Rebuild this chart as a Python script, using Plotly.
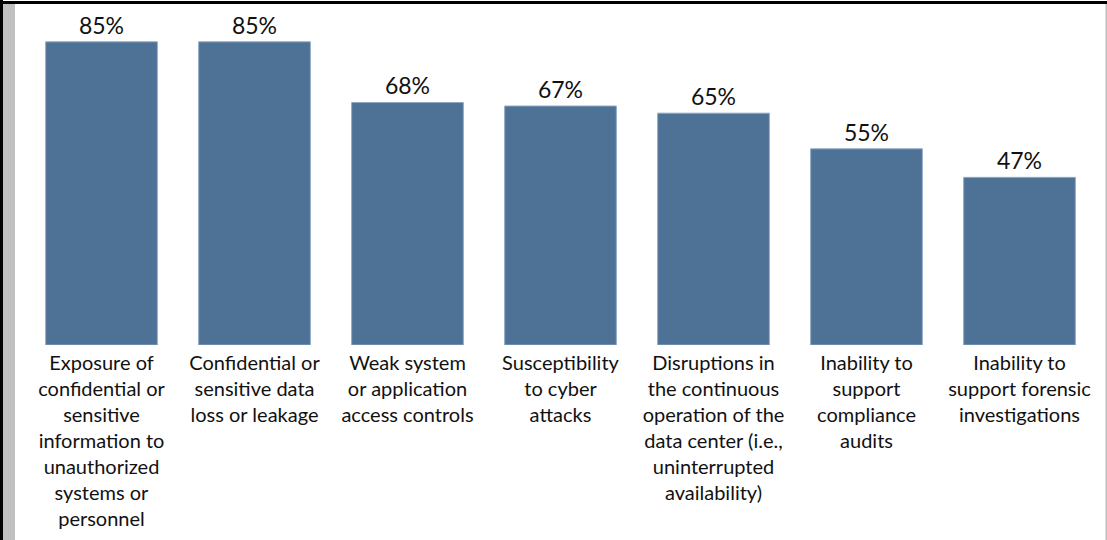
import plotly.graph_objects as go

categories = [
    "Exposure of<br>confidential or<br>sensitive<br>information to<br>unauthorized<br>systems or<br>personnel",
    "Confidential or<br>sensitive data<br>loss or leakage",
    "Weak system<br>or application<br>access controls",
    "Susceptibility<br>to cyber<br>attacks",
    "Disruptions in<br>the continuous<br>operation of the<br>data center (i.e.,<br>uninterrupted<br>availability)",
    "Inability to<br>support<br>compliance<br>audits",
    "Inability to<br>support forensic<br>investigations",
]
values = [85, 85, 68, 67, 65, 55, 47]
value_labels = ["85%", "85%", "68%", "67%", "65%", "55%", "47%"]

W, H = 1107, 540
ML, MR, MT, MB = 25, 11, 24, 195
pw = W - ML - MR
ph = H - MT - MB

def px_x(p):
    return (p - ML) / pw

def px_y(p):
    return 1 - (p - MT) / ph

fig = go.Figure(go.Bar(
    x=list(range(len(values))),
    y=values,
    text=value_labels,
    textposition="outside",
    cliponaxis=False,
    textfont=dict(size=23, color="#111111", family="Lato, sans-serif"),
    marker=dict(color="#4E7196", line=dict(color="#8FA9C4", width=1)),
    width=0.73,
))

shapes = [
    dict(type="rect", xref="paper", yref="paper", x0=px_x(3), x1=px_x(15),
         y0=px_y(H), y1=px_y(2), fillcolor="#C0C0C0", line=dict(width=0), layer="below"),
    dict(type="rect", xref="paper", yref="paper", x0=px_x(0), x1=px_x(3),
         y0=px_y(H), y1=px_y(0), fillcolor="#000000", line=dict(width=0)),
    dict(type="rect", xref="paper", yref="paper", x0=px_x(0), x1=px_x(W),
         y0=px_y(4), y1=px_y(1), fillcolor="#000000", line=dict(width=0)),
    dict(type="rect", xref="paper", yref="paper", x0=px_x(1105.5), x1=px_x(1107),
         y0=px_y(H), y1=px_y(4), fillcolor="#BDBDBD", line=dict(width=0)),
]

fig.update_layout(
    width=W, height=H,
    margin=dict(l=ML, r=MR, t=MT, b=MB),
    paper_bgcolor="white", plot_bgcolor="white",
    showlegend=False,
    shapes=shapes,
    font=dict(family="Lato, sans-serif", color="#111111"),
    xaxis=dict(
        tickmode="array",
        tickvals=list(range(len(values))),
        ticktext=categories,
        range=[-0.5, 6.5],
        showgrid=False, zeroline=False, showline=False, ticks="",
        tickfont=dict(size=20, family="Lato, sans-serif", color="#111111"),
        ticklabelstandoff=4,
        fixedrange=True,
    ),
    yaxis=dict(
        range=[0, 90], visible=False, showgrid=False, zeroline=False, fixedrange=True,
    ),
)

fig.write_html("out.html")
